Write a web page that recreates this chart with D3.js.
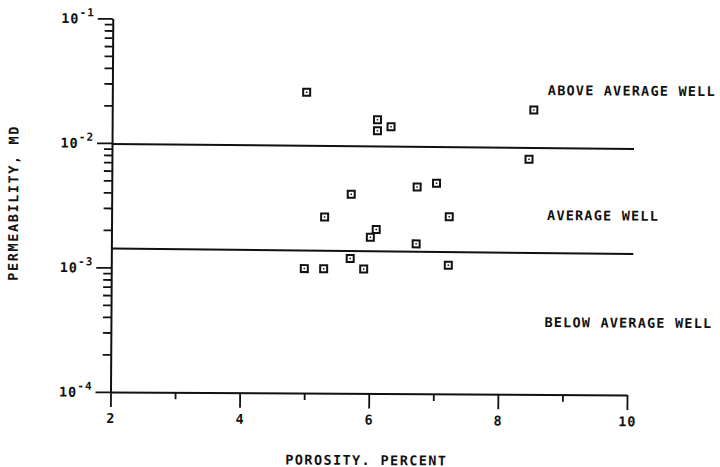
<!DOCTYPE html>
<html>
<head>
<meta charset="utf-8">
<script src="https://cdn.jsdelivr.net/npm/d3@7"></script>
<style>
  body { margin: 0; background: #fff; }
  text { font-family: "DejaVu Sans Mono", monospace; font-weight: bold; fill: #111; }
</style>
</head>
<body>
<svg id="chart" width="720" height="467"></svg>
<script>
// Core samples: porosity (percent) and permeability (md)
const porosity = [5.01, 6.11, 6.11, 6.32, 5.71, 6.73, 7.03, 5.30, 7.23, 6.10,
                  6.01, 6.72, 5.70, 4.99, 5.29, 5.91, 7.22, 8.53, 8.46];
const permeability = [0.0261, 0.0158, 0.0129, 0.0139, 0.00397, 0.00458, 0.00492, 0.00260, 0.00265, 0.00208,
                      0.00180, 0.00160, 0.00121, 0.00100, 0.00100, 0.00100, 0.00108, 0.0193, 0.00775];

// Zone boundaries (porosity, permeability) end points
const upperBoundary = [[2, 0.0098], [10.085, 0.0095]];
const lowerBoundary = [[2, 0.00142], [10.085, 0.00136]];

// Axis ticks and labels
const xMajorTicks = [2, 4, 6, 8, 10];
const xMinorTicks = [3, 5, 7, 9];
const yDecades = [1e-4, 1e-3, 1e-2, 1e-1];
const yExponents = ["-4", "-3", "-2", "-1"];
const zoneLabels = ["ABOVE AVERAGE WELL", "AVERAGE WELL", "BELOW AVERAGE WELL"];
const xTitle = "POROSITY. PERCENT";
const yTitle = "PERMEABILITY, MD";

const svg = d3.select("#chart");
const g = svg.append("g").attr("transform", "rotate(0.35,370,230)");

const x = d3.scaleLinear().domain([2, 10]).range([111.5, 628]);
const y = d3.scaleLog().domain([1e-4, 1e-1]).range([393.5, 20]);

// minor log ticks 2..9 in every decade
const yMinorTicks = [];
yDecades.slice(0, 3).forEach(d => { for (let k = 2; k <= 9; k++) yMinorTicks.push(d * k); });

const stroke = "#111";

// x axis: major and minor ticks hanging below the line
const xAxisMajor = d3.axisBottom(x).tickValues(xMajorTicks).tickSize(15).tickSizeOuter(0)
  .tickFormat(d3.format("d")).tickPadding(6);
const xAxisMinor = d3.axisBottom(x).tickValues(xMinorTicks).tickSize(7).tickSizeOuter(0).tickFormat("");
const gx = g.append("g").attr("transform", `translate(0,${y(1e-4)})`).call(xAxisMajor);
g.append("g").attr("transform", `translate(0,${y(1e-4)})`).call(xAxisMinor)
  .select(".domain").remove();

// y axis: decade ticks and minor ticks pointing left
const yAxisMajor = d3.axisLeft(y).tickValues(yDecades).tickSize(15).tickSizeOuter(0).tickFormat("");
const yAxisMinor = d3.axisLeft(y).tickValues(yMinorTicks).tickSize(8).tickSizeOuter(0).tickFormat("");
const gy = g.append("g").attr("transform", `translate(${x(2)},0)`).call(yAxisMajor);
g.append("g").attr("transform", `translate(${x(2)},0)`).call(yAxisMinor)
  .select(".domain").remove();

g.selectAll(".domain").attr("stroke", stroke).attr("stroke-width", 2);
g.selectAll(".tick line").attr("stroke", stroke).attr("stroke-width", 1.8);
gx.selectAll(".tick text").attr("font-size", 13.5).attr("font-family", "DejaVu Sans Mono")
  .attr("font-weight", "bold").attr("fill", "#111").attr("dy", "0.75em").attr("letter-spacing", 1);

// decade labels written as 10 with superscript exponent
yDecades.forEach((d, i) => {
  const t = g.append("text")
    .attr("x", x(2) - 18)
    .attr("y", y(d) + 5)
    .attr("text-anchor", "end")
    .attr("font-size", 13.5)
    .attr("letter-spacing", 1);
  t.append("tspan").text("10");
  t.append("tspan").attr("dy", -7).attr("font-size", 11).text(yExponents[i]);
});

// zone boundary lines
const line = d3.line().x(d => x(d[0])).y(d => y(d[1]));
[upperBoundary, lowerBoundary].forEach(b => {
  g.append("path").attr("d", line(b)).attr("fill", "none")
    .attr("stroke", stroke).attr("stroke-width", 2);
});

// sample markers: open squares with a centre dot
const pts = g.append("g").selectAll("g").data(porosity.map((p, i) => [p, permeability[i]]))
  .join("g").attr("transform", d => `translate(${x(d[0])},${y(d[1])})`);
pts.append("rect").attr("x", -3.5).attr("y", -3.5).attr("width", 7).attr("height", 7)
  .attr("fill", "#fff").attr("stroke", stroke).attr("stroke-width", 2);
pts.append("rect").attr("x", -0.75).attr("y", -0.75).attr("width", 1.5).attr("height", 1.5)
  .attr("fill", stroke);

// zone labels
const zonePos = [[547, 94], [547, 219], [545, 326]];
zoneLabels.forEach((s, i) => {
  g.append("text").attr("x", zonePos[i][0]).attr("y", zonePos[i][1])
    .attr("font-size", 13.5).attr("letter-spacing", 1.2).text(s);
});

// axis titles
g.append("text").attr("x", (x(2) + x(10)) / 2 - 2).attr("y", 465)
  .attr("text-anchor", "middle").attr("font-size", 13.5).attr("letter-spacing", 1.4).text(xTitle);
g.append("text").attr("transform", "translate(18,205) rotate(-90)")
  .attr("text-anchor", "middle").attr("font-size", 13.5).attr("letter-spacing", 1.6).text(yTitle);
</script>
</body>
</html>
